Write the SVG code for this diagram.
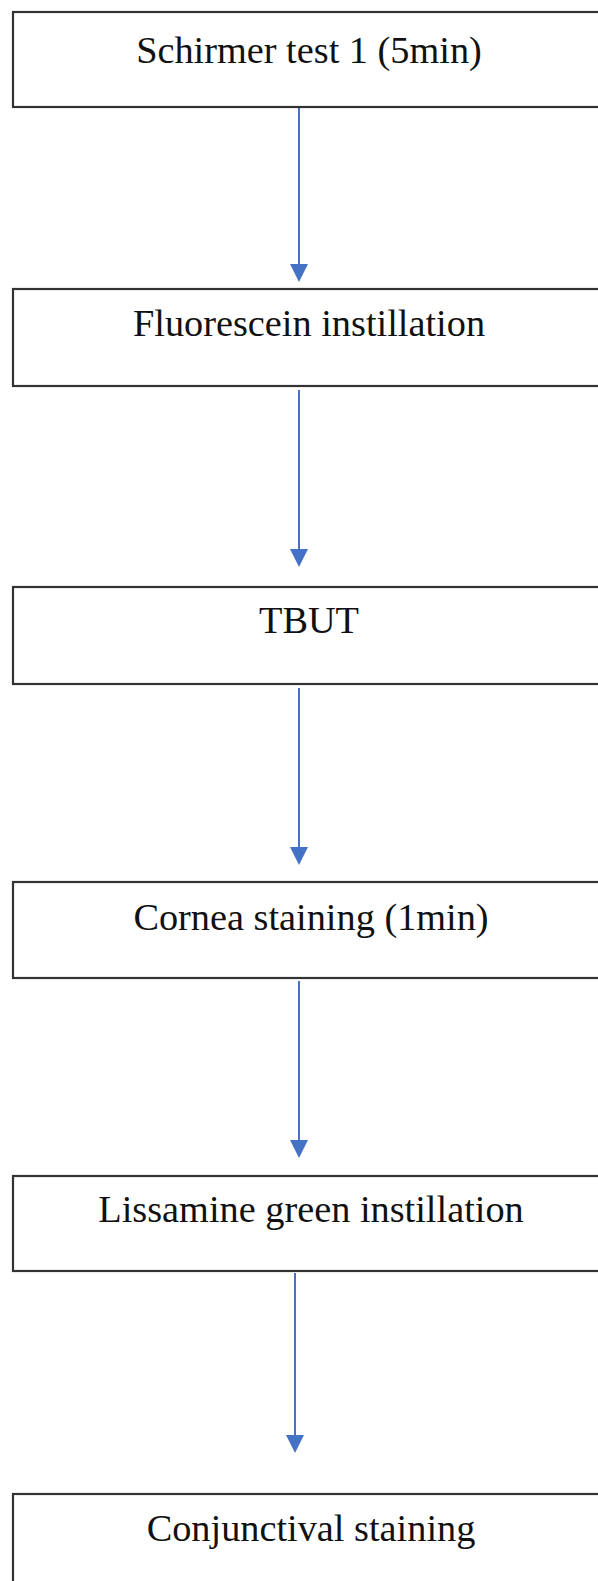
<svg xmlns="http://www.w3.org/2000/svg" width="598" height="1581" viewBox="0 0 598 1581">
<style>
.box{fill:#fff;stroke:#333;stroke-width:2.2}
.lbl{font-family:"Liberation Serif","Times New Roman",serif;font-size:38.3px;fill:#111;text-anchor:middle}
.conn{stroke:#4a72c0;stroke-width:2;fill:none}
.head{fill:#4472c4}
</style>
<rect width="598" height="1581" fill="#fff"/>
<g id="connectors">
<line class="conn" x1="299" y1="108" x2="299" y2="264"/>
<path class="head" d="M290,264 L308,264 L299,282 Z"/>
<line class="conn" x1="299" y1="390" x2="299" y2="549"/>
<path class="head" d="M290,549 L308,549 L299,567 Z"/>
<line class="conn" x1="299" y1="688" x2="299" y2="847"/>
<path class="head" d="M290,847 L308,847 L299,865 Z"/>
<line class="conn" x1="299" y1="981" x2="299" y2="1140"/>
<path class="head" d="M290,1140 L308,1140 L299,1158 Z"/>
<line class="conn" x1="295" y1="1273" x2="295" y2="1435"/>
<path class="head" d="M286,1435 L304,1435 L295,1453 Z"/>
</g>
<g id="n1"><rect class="box" x="13" y="12" width="620" height="95"/><text class="lbl" x="309" y="63">Schirmer test 1 (5min)</text></g>
<g id="n2"><rect class="box" x="13" y="289" width="620" height="97"/><text class="lbl" x="309" y="336">Fluorescein instillation</text></g>
<g id="n3"><rect class="box" x="13" y="587" width="620" height="97"/><text class="lbl" x="309" y="633">TBUT</text></g>
<g id="n4"><rect class="box" x="13" y="882" width="620" height="96"/><text class="lbl" x="311" y="930">Cornea staining (1min)</text></g>
<g id="n5"><rect class="box" x="13" y="1176" width="620" height="95"/><text class="lbl" x="311" y="1222">Lissamine green instillation</text></g>
<g id="n6"><rect class="box" x="13" y="1494" width="620" height="120"/><text class="lbl" x="311" y="1541">Conjunctival staining</text></g>
</svg>
